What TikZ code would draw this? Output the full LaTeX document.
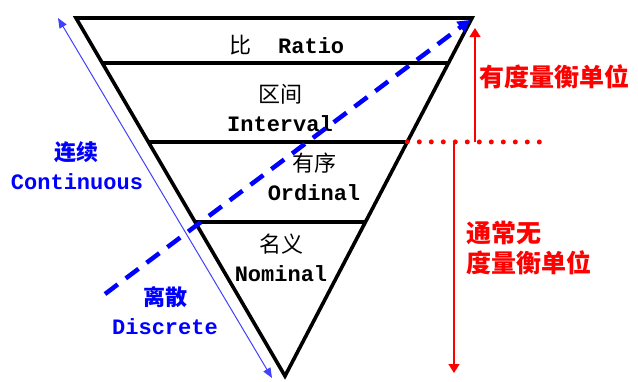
\documentclass[tikz,border=0pt]{standalone}
\usepackage{fontspec}
\setmonofont{Liberation Mono}
\newfontfamily\cjk{Noto Sans CJK SC}
\usetikzlibrary{arrows.meta,calc}

\begin{document}
\begin{tikzpicture}[
  x=1pt, y=-1pt,
  frame/.style={line width=3.6pt},
  lvl/.style={font=\fontsize{22}{29}\selectfont\ttfamily\bfseries, align=center, inner sep=0pt},
  sidelbl/.style={lvl, text=blue},
  redlbl/.style={font=\fontsize{25}{30}\selectfont\cjk\bfseries, text=red, align=left, inner sep=0pt},
  redarr/.style={-{Triangle[length=9pt,width=11pt]}, red, line width=1.3pt},
  thinarr/.style={{Triangle[length=10pt,width=8pt]}-{Triangle[length=10pt,width=8pt]}, blue!75, line width=1pt},
  dasharr/.style={-{Triangle[length=12pt,width=13pt]}, blue, line width=4.5pt, dash pattern=on 16pt off 10pt}
]
  \useasboundingbox (0,0) rectangle (638,381);

  \coordinate (tl) at (76,18);
  \coordinate (tr) at (472,18);
  \coordinate (ap) at (285,376);
  \coordinate (l1) at ($(tl)!0.126!(ap)$);
  \coordinate (r1) at ($(tr)!0.126!(ap)$);
  \coordinate (l2) at ($(tl)!0.346!(ap)$);
  \coordinate (r2) at ($(tr)!0.346!(ap)$);
  \coordinate (l3) at ($(tl)!0.570!(ap)$);
  \coordinate (r3) at ($(tr)!0.570!(ap)$);

  \draw[frame] (l1) -- (r1);
  \draw[frame] (l2) -- (r2);
  \draw[frame] (l3) -- (r3);
  \draw[frame] (tl) -- (tr) -- (ap) -- cycle;

  \node[lvl] (ratio) at (287,45) {{\cjk\mdseries 比}~~Ratio};
  \node[lvl] (interval) at (280,108) {{\cjk\mdseries 区间}\\Interval};
  \node[lvl] (ordinal) at (314,177) {{\cjk\mdseries 有序}\\Ordinal};
  \node[lvl] (nominal) at (281,258) {{\cjk\mdseries 名义}\\Nominal};

  \node[sidelbl] (cont) at (77,166) {{\cjk 连续}\\Continuous};
  \node[sidelbl] (disc) at (165,311) {{\cjk 离散}\\Discrete};

  \node[redlbl, anchor=west] (hasunit) at (479,77) {有度量衡单位};
  \node[redlbl, anchor=west] (nounit) at (466,248) {通常无\\度量衡单位};

  \coordinate (cup) at (58,18);
  \coordinate (cdn) at (272,378);
  \draw[thinarr] (cdn) -- (cup);

  \coordinate (dlo) at (105,294);
  \coordinate (dhi) at (470,20);
  \draw[dasharr] (dlo) -- (dhi);

  \coordinate (rmark) at (547,142);
  \draw[red, line width=5pt, line cap=round, dash pattern=on 0pt off 12pt] (r2) -- (rmark);

  \coordinate (ulo) at (475,142);
  \coordinate (uhi) at (475,28);
  \coordinate (dtop) at (454,142);
  \coordinate (dbot) at (454,373);
  \draw[redarr] (ulo) -- (uhi);
  \draw[redarr] (dtop) -- (dbot);
\end{tikzpicture}
\end{document}
